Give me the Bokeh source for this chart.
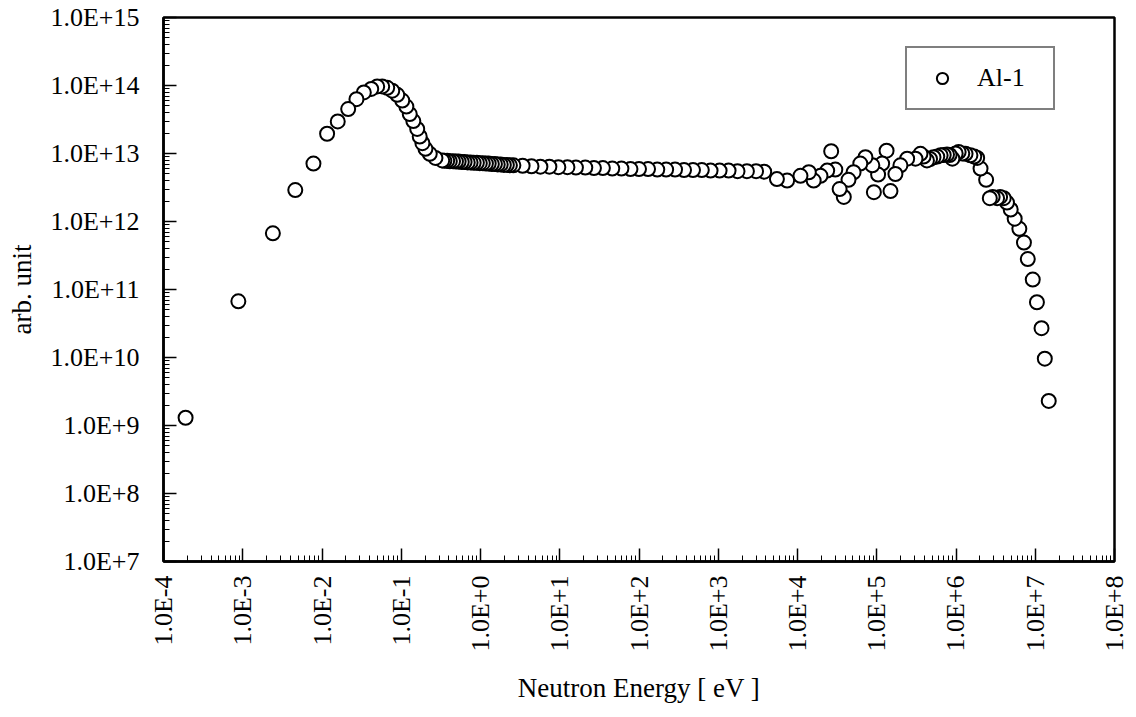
from bokeh.plotting import figure
from bokeh.models import FixedTicker, CustomJSTickFormatter, Range1d, Legend, LegendItem
from bokeh.embed import file_html
from bokeh.resources import INLINE

# Neutron spectrum "Al-1" (group order: high energy -> low energy)
energy_ev = [
    1.48e7, 1.32e7, 1.2e7, 1.05e7, 9.3e6, 8.05e6, 7.2e6, 6.3e6, 5.5e6, 4.9e6,
    4.4e6, 4.0e6, 3.6e6, 3.3e6, 2.9e6, 2.67e6, 2.4e6, 2.04e6, 1.85e6, 1.7e6,
    1.52e6, 1.32e6, 1.2e6, 1.08e6, 9.9e5, 9.0e5, 8.3e5, 7.7e5, 7.0e5, 6.4e5,
    5.8e5, 5.2e5, 4.7e5, 4.3e5, 3.9e5, 3.56e5, 3.08e5, 2.42e5, 1.99e5, 1.72e5,
    1.49e5, 1.33e5, 1.17e5, 1.04e5, 9.2e4, 8.8e4, 7.2e4, 6.2e4, 5.1e4, 4.4e4,
    3.84e4, 3.4e4, 3.0e4, 2.66e4, 2.37e4, 1.95e4, 1.6e4, 1.39e4, 1.09e4, 7.4e3,
    5.5e3,
    3800, 3000, 2300, 1750, 1350, 1040, 800, 620, 480, 370,
    285, 220, 170, 130, 100, 78, 60, 46, 35, 27,
    21, 16, 12.5, 9.6, 7.4, 5.7, 4.4, 3.4, 2.6,
    2.35, 2.15, 1.97, 1.8, 1.65, 1.52, 1.39, 1.27, 1.17, 1.07,
    0.98, 0.9, 0.82, 0.75, 0.69, 0.63, 0.58, 0.53, 0.49, 0.45,
    0.41, 0.38, 0.35,
    0.329, 0.27, 0.229, 0.202, 0.185, 0.171, 0.159, 0.142, 0.128, 0.116,
    0.103, 0.089, 0.077, 0.0665, 0.0575, 0.0497, 0.0418, 0.0337, 0.0272, 0.0214,
    0.0158, 0.0116, 0.0078, 0.0046, 0.0024, 0.00088, 0.00019,
]

flux_al1 = [
    2.3e9, 9.6e9, 2.7e10, 6.5e10, 1.4e11, 2.8e11, 4.9e11, 7.8e11, 1.1e12, 1.5e12,
    1.9e12, 2.2e12, 2.3e12, 2.2e12, 2.3e12, 2.2e12, 4.1e12, 6.0e12, 8.6e12, 9.0e12,
    9.4e12, 9.9e12, 1.0e13, 1.05e13, 1.0e13, 8.4e12, 9.5e12, 9.7e12, 9.5e12, 9.4e12,
    9.0e12, 8.8e12, 8.3e12, 7.9e12, 9.0e12, 9.9e12, 8.4e12, 8.4e12, 6.7e12, 5.0e12,
    2.8e12, 1.1e13, 7.1e12, 4.9e12, 2.7e12, 6.7e12, 8.8e12, 7.1e12, 5.3e12, 4.1e12,
    2.3e12, 3.0e12, 5.8e12, 1.08e13, 5.6e12, 4.7e12, 4.0e12, 5.3e12, 4.7e12, 4.0e12,
    4.2e12,
    5.4e12, 5.5e12, 5.5e12, 5.5e12, 5.6e12, 5.6e12, 5.6e12, 5.7e12, 5.7e12, 5.7e12,
    5.8e12, 5.8e12, 5.8e12, 5.9e12, 5.9e12, 5.9e12, 6.0e12, 6.0e12, 6.1e12, 6.1e12,
    6.2e12, 6.2e12, 6.3e12, 6.3e12, 6.4e12, 6.4e12, 6.5e12, 6.6e12, 6.7e12,
    6.7e12, 6.8e12, 6.8e12, 6.9e12, 6.9e12, 7.0e12, 7.0e12, 7.1e12, 7.1e12, 7.2e12,
    7.2e12, 7.3e12, 7.3e12, 7.4e12, 7.4e12, 7.5e12, 7.5e12, 7.6e12, 7.6e12, 7.7e12,
    7.7e12, 7.8e12, 7.8e12,
    7.9e12, 8.6e12, 9.9e12, 1.17e13, 1.42e13, 1.78e13, 2.3e13, 3.0e13, 3.8e13, 4.9e13,
    6.0e13, 7.3e13, 8.4e13, 9.25e13, 9.7e13, 9.7e13, 8.9e13, 7.9e13, 6.3e13, 4.5e13,
    2.96e13, 1.95e13, 7.1e12, 2.9e12, 6.7e11, 6.7e10, 1.3e9,
]

series_label = "Al-1"
x_title = "Neutron Energy [ eV ]"
y_title = "arb. unit"
x_decades = list(range(-4, 9))
y_decades = list(range(7, 16))

SERIF = "Liberation Serif"

p = figure(width=1136, height=717, x_axis_type="log", y_axis_type="log",
           output_backend="svg", toolbar_location=None,
           x_range=Range1d(10.0 ** x_decades[0], 10.0 ** x_decades[-1]),
           y_range=Range1d(10.0 ** y_decades[0], 10.0 ** y_decades[-1]),
           min_border_left=163, min_border_right=22, min_border_top=17,
           min_border_bottom=156)
p.frame_width = 951
p.frame_height = 544
p.grid.visible = False
p.outline_line_color = "black"
p.outline_line_width = 2.5
p.background_fill_color = "white"
p.border_fill_color = "white"

def minor(decs):
    out = []
    for d in decs[:-1]:
        for k in range(2, 10):
            out.append(k * 10.0 ** d)
    return out

p.xaxis.ticker = FixedTicker(ticks=[10.0 ** d for d in x_decades], minor_ticks=minor(x_decades))
p.yaxis.ticker = FixedTicker(ticks=[10.0 ** d for d in y_decades], minor_ticks=minor(y_decades))

fmt = CustomJSTickFormatter(code="""
const e = Math.round(Math.log10(tick));
return "1.0E" + (e >= 0 ? "+" : "-") + Math.abs(e);
""")
p.xaxis.formatter = fmt
p.yaxis.formatter = fmt

for ax in (p.xaxis[0], p.yaxis[0]):
    ax.axis_line_color = "black"
    ax.axis_line_width = 2.5
    ax.major_tick_in = 13
    ax.major_tick_out = 0
    ax.minor_tick_in = 6
    ax.minor_tick_out = 0
    ax.major_tick_line_width = 1.5
    ax.minor_tick_line_width = 1
    ax.major_label_text_font = SERIF
    ax.major_label_text_font_size = "26px"
    ax.major_label_text_color = "black"
    ax.axis_label_text_font = SERIF
    ax.axis_label_text_font_size = "27px"
    ax.axis_label_text_font_style = "normal"
    ax.axis_label_text_color = "black"

p.xaxis.major_label_orientation = 1.5707963
p.xaxis.major_label_standoff = 14
p.xaxis.axis_label = x_title
p.xaxis.axis_label_standoff = 18
p.yaxis.major_label_standoff = 24
p.yaxis.axis_label = y_title
p.yaxis.axis_label_standoff = 10

r = p.scatter(energy_ev, flux_al1, marker="circle", size=14,
              fill_color="white", line_color="black", line_width=2)

legend = Legend(items=[LegendItem(label=series_label, renderers=[r])],
                location=(742, 451), orientation="vertical",
                border_line_color="black", border_line_width=2,
                background_fill_color="white", background_fill_alpha=1,
                padding=15, margin=0, spacing=0,
                glyph_width=40, glyph_height=28, label_standoff=15,
                label_width=61, label_height=29,
                label_text_font=SERIF, label_text_font_size="26px",
                label_text_color="black")
p.add_layout(legend, "center")

open("out.html", "w").write(file_html(p, INLINE))
